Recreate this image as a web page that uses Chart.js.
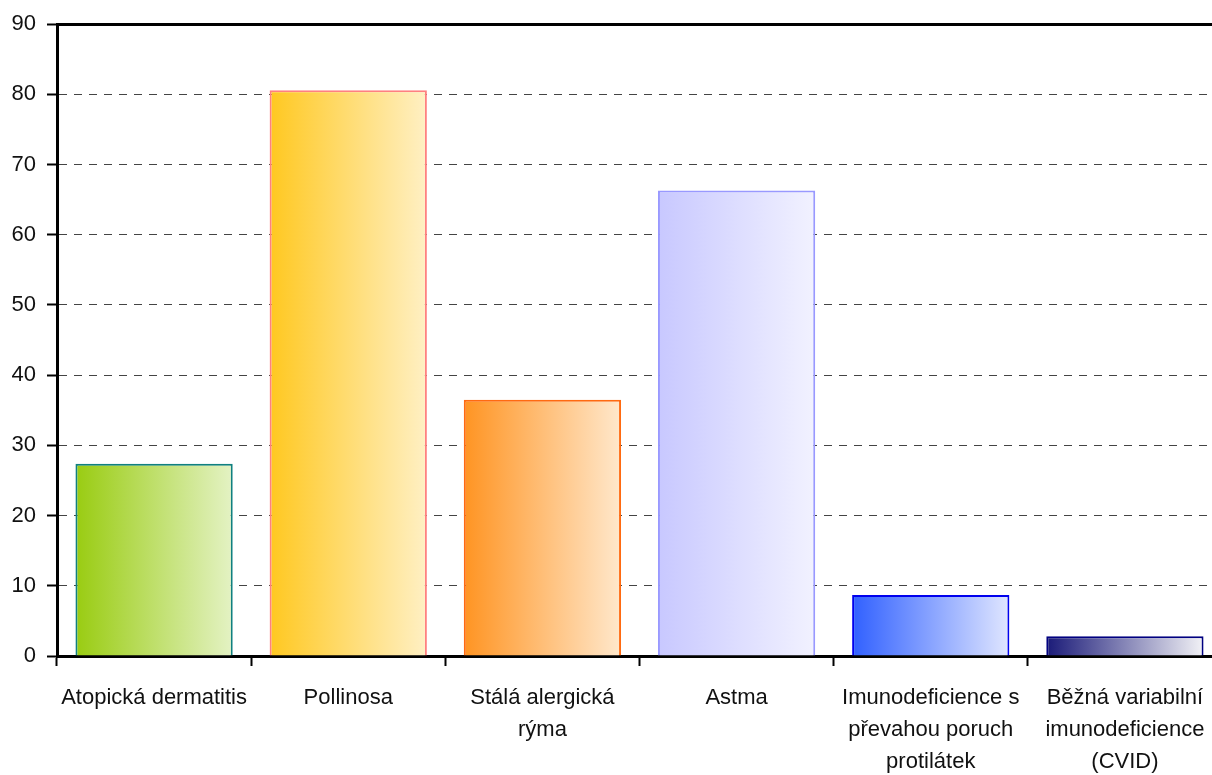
<!DOCTYPE html>
<html>
<head>
<meta charset="utf-8">
<script src="https://cdn.jsdelivr.net/npm/chart.js@4/dist/chart.umd.min.js"></script>
<style>
  html, body { margin: 0; padding: 0; background: #fff; overflow: hidden; }
  #wrap { position: absolute; left: 0; top: 0; width: 1240px; height: 775px; }
</style>
</head>
<body>
<div id="wrap"><canvas id="main-chart"></canvas></div>
<script>
const categories = [
  'Atopická dermatitis',
  'Pollinosa',
  ['Stálá alergická', 'rýma'],
  'Astma',
  ['Imunodeficience s', 'převahou poruch', 'protilátek'],
  ['Běžná variabilní', 'imunodeficience', '(CVID)']
];
const values = [27.4, 80.6, 36.5, 66.3, 8.7, 2.8];
const yTicks = [0, 10, 20, 30, 40, 50, 60, 70, 80, 90];

// bar colours: gradient left -> right, plus outline
const gradLeft = ['#99cc11', '#ffc820', '#ff9422', '#c8c8ff', '#3060ff', '#1a1a78'];
const gradRight = ['#e4f2c4', '#fff0c4', '#ffe8cc', '#f2f2ff', '#e0e6ff', '#f2f2f6'];
const outline = ['#108080', '#ff8080', '#ff6a10', '#9999ff', '#0000ee', '#000080'];

const barPct = 0.81;

function barFill(ctx) {
  const chart = ctx.chart;
  const i = ctx.dataIndex;
  if (ctx.type !== 'data' || !chart.chartArea || !chart.scales.x) return gradLeft[i] || gradLeft[0];
  const x = chart.scales.x;
  const c = x.getPixelForValue(i);
  const half = x.width / categories.length * barPct / 2;
  const g = chart.ctx.createLinearGradient(c - half, 0, c + half, 0);
  g.addColorStop(0, gradLeft[i]);
  g.addColorStop(1, gradRight[i]);
  return g;
}

const family = '"Liberation Sans", Arial, sans-serif';

new Chart(document.getElementById('main-chart'), {
  type: 'bar',
  data: {
    labels: categories,
    datasets: [{
      data: values,
      backgroundColor: barFill,
      borderColor: outline,
      borderWidth: 2,
      categoryPercentage: 1,
      barPercentage: barPct
    }]
  },
  options: {
    responsive: true,
    maintainAspectRatio: false,
    animation: false,
    layout: { padding: { left: 0, right: 18, top: 23, bottom: 0 } },
    plugins: { legend: { display: false }, tooltip: { enabled: false } },
    scales: {
      x: {
        z: 1,
        grid: {
          offset: true,
          color: 'transparent',
          drawTicks: true,
          tickColor: '#000',
          tickWidth: 2,
          tickLength: 10,
          tickBorderDash: []
        },
        border: { display: true, color: '#000', width: 3 },
        ticks: {
          color: '#111',
          font: { family: family, size: 22, lineHeight: 1.45 },
          maxRotation: 0,
          minRotation: 0,
          autoSkip: false,
          padding: 16
        },
        afterFit: (s) => { s.height = 119; }
      },
      y: {
        min: 0,
        max: 90,
        afterBuildTicks: (s) => { s.ticks = yTicks.map(v => ({ value: v })); },
        grid: {
          color: (c) => c.tick && c.tick.value === 90 ? '#000' : '#444',
          lineWidth: (c) => c.tick && c.tick.value === 90 ? 3 : 1,
          tickColor: '#000',
          tickWidth: 2,
          tickLength: 10,
          tickBorderDash: []
        },
        border: {
          display: true,
          color: '#000',
          width: 3,
          dash: (c) => c.tick && c.tick.value === 90 ? [] : [8, 7]
        },
        ticks: {
          color: '#111',
          font: { family: family, size: 22 },
          padding: 11
        },
        afterFit: (s) => { s.width = 57; }
      }
    }
  }
});
</script>
</body>
</html>
